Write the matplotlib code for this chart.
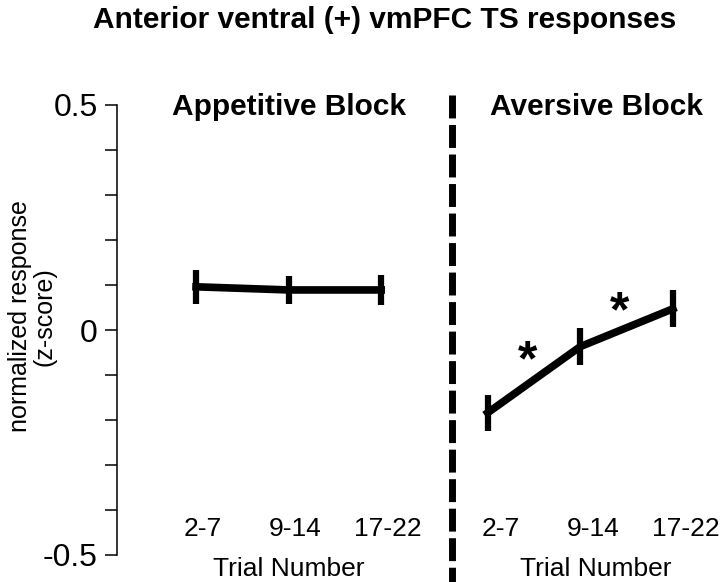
import matplotlib.pyplot as plt
import numpy as np

plt.rcParams['font.family'] = ['Liberation Sans', 'DejaVu Sans']

# Data
trial_bins = ['2-7', '9-14', '17-22']
appetitive_mean = [0.096, 0.089, 0.089]
appetitive_err = [0.038, 0.031, 0.034]
aversive_mean = [-0.184, -0.037, 0.047]
aversive_err = [0.040, 0.041, 0.041]
y_ticks = [-0.5, 0, 0.5]
y_tick_labels = ['-0.5', '0', '0.5']

fig = plt.figure(figsize=(7.2, 5.82), dpi=100)
ax = fig.add_axes([117 / 720, 27 / 582, 603 / 720, 450 / 582])

# x positions of the two blocks
x_app = np.arange(len(trial_bins)) + 1.0
x_av = x_app + 3.15
x_div = 3.76

blocks = [(x_app, appetitive_mean, appetitive_err, 'Appetitive Block', 0.0, 0.07),
          (x_av, aversive_mean, aversive_err, 'Aversive Block', 0.17, 0.14)]
for x, m, e, name, dx_title, dx_lab in blocks:
    ax.errorbar(x, m, yerr=e, color='black', lw=5.5, elinewidth=4.5,
                capsize=0, clip_on=False)
    for xi, lab in zip(x, trial_bins):
        ax.text(xi + dx_lab, -0.442, lab, ha='center', va='center', fontsize=19)
    ax.text(x[1] + dx_title, -0.531, 'Trial Number', ha='center', va='center',
            fontsize=19, clip_on=False)
    ax.text(x[1] + dx_title, 0.496, name, ha='center', va='center',
            fontsize=21.5, fontweight='bold')

# significance stars
ax.text((x_av[0] + x_av[1]) / 2 - 0.07, -0.071, '*', ha='center', va='center',
        fontsize=36, fontweight='bold')
ax.text((x_av[1] + x_av[2]) / 2 - 0.07, 0.038, '*', ha='center', va='center',
        fontsize=36, fontweight='bold')

# divider
ax.plot([x_div, x_div], [0.522, -0.6], color='black', lw=5,
        ls=(0, (3.3, 0.95)), clip_on=False, solid_capstyle='butt',
        dash_capstyle='butt')

ax.set_xlim(0.146, 6.66)
ax.set_ylim(-0.5, 0.5)
ax.set_yticks(y_ticks)
ax.set_yticklabels(y_tick_labels, fontsize=23)
ax.set_yticks(np.arange(-0.5, 0.51, 0.1), minor=True)
ax.tick_params(axis='y', which='both', direction='out', length=9, width=1.1, pad=5)
ax.set_xticks([])
for s in ['top', 'right', 'bottom']:
    ax.spines[s].set_visible(False)
ax.spines['left'].set_linewidth(1.1)

ax.set_ylabel('normalized response\n(z-score)', fontsize=18, linespacing=1.05)
ax.yaxis.set_label_coords(-0.1, 0.53)

fig.text(385 / 720, 1 - 20 / 582, 'Anterior ventral (+) vmPFC TS responses',
         ha='center', va='center', fontsize=21.5, fontweight='bold')

fig.savefig('out.png', dpi=100)
